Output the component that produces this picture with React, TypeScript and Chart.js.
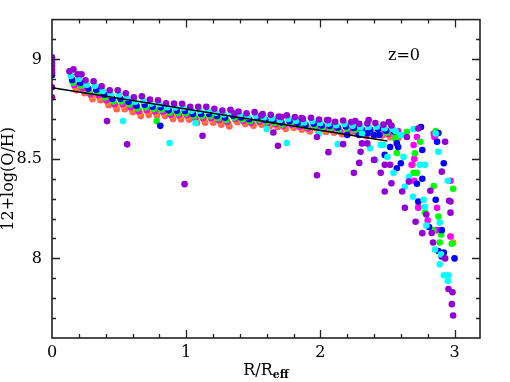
import { useEffect, useRef } from "react";
import { Chart, registerables } from "chart.js";
Chart.register(...registerables);

// ---------- data ----------
// main band: one column per radial bin, each colour slightly shifted
const purpleR = [0.13,0.19,0.25,0.31,0.37,0.43,0.49,0.55,0.61,0.67,0.73,0.79,0.85,0.91,0.97,1.03,1.09,1.15,1.21,1.27,1.33,1.39,1.45,1.51,1.57,1.63,1.69,1.75,1.81,1.87,1.93,1.99,2.05,2.11,2.17,2.23,2.29,2.35,2.41,2.47,2.53];
const purpleOH = [8.94,8.925,8.895,8.89,8.865,8.845,8.845,8.83,8.81,8.815,8.798,8.795,8.78,8.778,8.777,8.762,8.762,8.762,8.752,8.743,8.747,8.738,8.729,8.735,8.726,8.722,8.713,8.719,8.71,8.701,8.707,8.698,8.695,8.687,8.693,8.685,8.677,8.678,8.68,8.672,8.668];

const cyanR = [0.14,0.20,0.26,0.32,0.38,0.44,0.50,0.56,0.62,0.68,0.74,0.80,0.86,0.92,0.98,1.04,1.10,1.16,1.22,1.28,1.34,1.40,1.46,1.52,1.58,1.64,1.70,1.76,1.82,1.88,1.94,2.00,2.06,2.12,2.18,2.24,2.30,2.36,2.42,2.48,2.54];
const cyanOH = [8.917,8.902,8.872,8.867,8.842,8.822,8.822,8.807,8.787,8.792,8.778,8.775,8.76,8.758,8.757,8.742,8.742,8.742,8.732,8.723,8.729,8.72,8.711,8.717,8.708,8.704,8.695,8.701,8.692,8.683,8.689,8.68,8.677,8.669,8.675,8.667,8.659,8.66,8.662,8.654,8.65];

const blueR = [0.15,0.21,0.27,0.33,0.39,0.45,0.51,0.57,0.63,0.69,0.75,0.81,0.87,0.93,0.99,1.05,1.11,1.17,1.23,1.29,1.35,1.41,1.47,1.53,1.59,1.65,1.71,1.77,1.83,1.89,1.95,2.01,2.07,2.13,2.19,2.25,2.31,2.37,2.43,2.49,2.55];
const blueOH = [8.897,8.882,8.852,8.847,8.822,8.802,8.802,8.787,8.767,8.772,8.762,8.759,8.744,8.742,8.741,8.726,8.726,8.726,8.716,8.707,8.717,8.708,8.699,8.705,8.696,8.692,8.683,8.689,8.68,8.671,8.677,8.668,8.665,8.657,8.663,8.655,8.647,8.648,8.65,8.642,8.638];

const greenR = [0.158,0.218,0.278,0.338,0.398,0.458,0.518,0.578,0.638,0.698,0.758,0.818,0.878,0.938,0.998,1.058,1.118,1.178,1.238,1.298,1.358,1.418,1.478,1.538,1.598,1.658,1.718,1.778,1.838,1.898,1.958,2.018,2.078,2.138,2.198,2.258,2.318,2.378,2.438,2.498,2.558];
const greenOH = [8.883,8.868,8.838,8.833,8.808,8.788,8.788,8.773,8.753,8.758,8.75,8.747,8.732,8.73,8.729,8.714,8.714,8.714,8.704,8.695,8.707,8.698,8.689,8.695,8.686,8.682,8.673,8.679,8.67,8.661,8.667,8.658,8.655,8.647,8.653,8.645,8.637,8.638,8.64,8.632,8.628];

const magentaR = [0.166,0.226,0.286,0.346,0.406,0.466,0.526,0.586,0.646,0.706,0.766,0.826,0.886,0.946,1.006,1.066,1.126,1.186,1.246,1.306,1.366,1.426,1.486,1.546,1.606,1.666,1.726,1.786,1.846,1.906,1.966,2.026,2.086,2.146,2.206,2.266,2.326,2.386,2.446,2.506,2.566];
const magentaOH = [8.87,8.855,8.825,8.82,8.795,8.775,8.775,8.76,8.74,8.745,8.74,8.737,8.722,8.72,8.719,8.704,8.704,8.704,8.694,8.685,8.699,8.69,8.681,8.687,8.678,8.674,8.665,8.671,8.662,8.653,8.659,8.65,8.647,8.639,8.645,8.637,8.629,8.63,8.632,8.624,8.62];

const orangeR = [0.174,0.234,0.294,0.354,0.414,0.474,0.534,0.594,0.654,0.714,0.774,0.834,0.894,0.954,1.014,1.074,1.134,1.194,1.254,1.314,1.374,1.434,1.494,1.554,1.614,1.674,1.734,1.794,1.854,1.914,1.974,2.034,2.094,2.154,2.214,2.274,2.334,2.394,2.454,2.514,2.574];
const orangeOH = [8.86,8.845,8.815,8.81,8.785,8.765,8.765,8.75,8.73,8.735,8.732,8.729,8.714,8.712,8.711,8.696,8.696,8.696,8.686,8.677,8.693,8.684,8.675,8.681,8.672,8.668,8.659,8.665,8.656,8.647,8.653,8.644,8.641,8.633,8.639,8.631,8.623,8.624,8.626,8.618,8.614];

const redR = [0.182,0.242,0.302,0.362,0.422,0.482,0.542,0.602,0.662,0.722,0.782,0.842,0.902,0.962,1.022,1.082,1.142,1.202,1.262,1.322,1.382,1.442,1.502,1.562,1.622,1.682,1.742,1.802,1.862,1.922,1.982,2.042,2.102,2.162,2.222,2.282,2.342,2.402,2.462,2.522,2.582];
const redOH = [8.845,8.83,8.80,8.795,8.77,8.75,8.75,8.735,8.715,8.72,8.718,8.715,8.70,8.698,8.697,8.682,8.682,8.682,8.672,8.663,8.684,8.675,8.666,8.672,8.663,8.659,8.65,8.656,8.647,8.638,8.644,8.635,8.632,8.624,8.63,8.622,8.614,8.615,8.617,8.609,8.605];

// outliers, the central column and the steep outer tail
const purpleTailR = [0,0,0,0,0,0,0,0,0.16,0.22,1.36,1.56,1.71,1.86,2.06,2.26,2.36,2.51,0.41,0.56,0.988,1.122,1.65,1.684,1.975,1.975,2.06,2.17,2.25,2.29,2.30,2.31,2.35,2.40,2.45,2.48,2.52,2.53,2.48,2.61,2.66,2.63,2.645,2.73,2.71,2.76,2.79,2.82,2.83,2.84,2.905,2.93,2.96,2.97,2.97,2.93,2.955,2.985,2.98,2.99];
const purpleTailOH = [9.01,8.995,8.98,8.965,8.95,8.935,8.86,8.81,8.95,8.925,8.728,8.718,8.71,8.705,8.695,8.69,8.695,8.685,8.69,8.573,8.373,8.616,8.633,8.566,8.61,8.418,8.534,8.574,8.43,8.48,8.536,8.578,8.578,8.495,8.43,8.47,8.47,8.378,8.336,8.336,8.386,8.254,8.61,8.653,8.184,8.127,8.22,8.34,8.128,8.08,8.436,8.586,8.29,8.23,8.286,8.00,7.846,7.83,7.77,7.713];

const cyanTailR = [0,0.53,0.876,1.07,1.60,1.75,1.99,2.13,2.31,2.37,2.41,2.45,2.47,2.50,2.545,2.56,2.60,2.62,2.63,2.66,2.69,2.695,2.74,2.78,2.77,2.78,2.79,2.86,2.88,2.89,2.855,2.89,2.92,2.955,2.95,2.95,2.90];
const cyanTailOH = [8.94,8.69,8.58,8.68,8.65,8.58,8.628,8.574,8.628,8.553,8.495,8.57,8.57,8.51,8.43,8.64,8.62,8.51,8.36,8.41,8.31,8.65,8.47,8.47,8.295,8.258,8.165,8.628,8.536,8.18,8.045,7.97,7.915,7.915,7.887,8.39,8.02];

const blueTailR = [0,0.807,2.20,2.29,2.35,2.40,2.44,2.52,2.48,2.57,2.58,2.60,2.57,2.75,2.76,2.72,2.76,2.73,2.87,2.88,2.92,2.86,2.81,2.905,2.88,2.92,2.905,3.00];
const blueTailOH = [8.92,8.666,8.62,8.62,8.628,8.62,8.62,8.56,8.52,8.578,8.56,8.478,8.453,8.66,8.545,8.375,8.40,8.286,8.586,8.63,8.478,8.295,8.158,8.142,8.037,8.029,8.01,8.00];

const greenTailR = [0,0.78,2.30,2.56,2.57,2.645,2.745,2.705,2.695,2.72,2.845,2.99,2.88,2.78,2.84,2.89,2.98,2.86,2.90];
const greenTailOH = [8.93,8.69,8.64,8.60,8.53,8.636,8.586,8.528,8.43,8.43,8.364,8.35,8.21,8.23,8.142,8.08,8.074,8.64,8.12];

const magentaTailR = [2.50,2.58,2.72,2.695,2.70,2.68,2.70,2.73,2.845,2.85,2.97,2.87,2.80,2.86,2.88,2.97];
const magentaTailOH = [8.63,8.64,8.61,8.57,8.50,8.47,8.39,8.254,8.628,8.61,8.39,8.254,8.19,8.142,8.142,8.11];

const orangeTailR = [2.55,2.69,2.73,2.86,2.97,2.99];
const orangeTailOH = [8.63,8.47,8.26,8.62,8.11,8.08];

const fitR = [0, 2.5];
const fitOH = [8.857, 8.59];

const xMinorTicks = [0.2,0.4,0.6,0.8,1.2,1.4,1.6,1.8,2.2,2.4,2.6,2.8,3.0];
const xMajorTicks = [1, 2, 3];
const yMinorTicks = [7.7,7.8,7.9,8.1,8.2,8.3,8.4,8.6,8.7,8.8,8.9,9.1];
const yMajorTicks = [8, 8.5, 9];

// ---------- helpers ----------
const pts = (xs: number[], ys: number[]) => xs.map((x, i) => ({ x, y: ys[i] }));
const FONT = "'DejaVu Serif', serif";

const framePlugin = {
  id: "frame",
  afterDraw(chart: any) {
    const { ctx, chartArea: a, scales } = chart;
    const xs = scales.x, ys = scales.y;
    ctx.save();
    ctx.strokeStyle = "#222";
    ctx.lineWidth = 1.6;
    ctx.strokeRect(a.left, a.top, a.right - a.left, a.bottom - a.top);
    ctx.lineWidth = 1.3;
    ctx.beginPath();
    const xt = (v: number, L: number) => {
      const p = Math.round(xs.getPixelForValue(v)) + 0.5;
      ctx.moveTo(p, a.bottom); ctx.lineTo(p, a.bottom - L);
      ctx.moveTo(p, a.top); ctx.lineTo(p, a.top + L);
    };
    const yt = (v: number, L: number) => {
      const p = Math.round(ys.getPixelForValue(v)) + 0.5;
      ctx.moveTo(a.left, p); ctx.lineTo(a.left + L, p);
      ctx.moveTo(a.right, p); ctx.lineTo(a.right - L, p);
    };
    xMinorTicks.forEach((v) => xt(v, 4));
    xMajorTicks.forEach((v) => xt(v, 8));
    yMinorTicks.forEach((v) => yt(v, 4));
    yMajorTicks.forEach((v) => yt(v, 8));
    ctx.stroke();

    ctx.fillStyle = "#000";
    ctx.font = `16px ${FONT}`;
    ctx.textAlign = "center";
    ctx.textBaseline = "alphabetic";
    ctx.fillText("z=0", 404, 60);

    ctx.save();
    ctx.translate(13, (a.top + a.bottom) / 2);
    ctx.rotate(-Math.PI / 2);
    ctx.textAlign = "center";
    ctx.fillText("12+log(O/H)", 0, 0);
    ctx.restore();

    ctx.textAlign = "left";
    ctx.font = `16px ${FONT}`;
    const main = "R/R";
    const w1 = ctx.measureText(main).width;
    ctx.font = `bold 11px ${FONT}`;
    const w2 = ctx.measureText("eff").width;
    const cx = (a.left + a.right) / 2;
    const x0 = cx - (w1 + w2) / 2;
    ctx.font = `16px ${FONT}`;
    ctx.fillText(main, x0, 375);
    ctx.font = `bold 11px ${FONT}`;
    ctx.fillText("eff", x0 + w1, 378);
    ctx.restore();
  },
};

const dot = (label: string, color: string, data: any[]) => ({
  type: "scatter" as const,
  label,
  data,
  pointRadius: 3.3,
  pointHoverRadius: 3.3,
  pointBorderWidth: 0,
  pointBackgroundColor: color,
  backgroundColor: color,
  borderColor: color,
  showLine: false,
});

export default function App() {
  const ref = useRef<HTMLCanvasElement>(null);
  useEffect(() => {
    if (!ref.current) return;
    const chart = new Chart(ref.current, {
      type: "scatter",
      data: {
        datasets: [
          {
            type: "line",
            label: "fit",
            data: pts(fitR, fitOH),
            borderColor: "#000",
            borderWidth: 1.5,
            pointRadius: 0,
            fill: false,
          } as any,
          dot("purple", "#9400d3", [...pts(purpleR, purpleOH), ...pts(purpleTailR, purpleTailOH)]),
          dot("cyan", "#00ffff", [...pts(cyanR, cyanOH), ...pts(cyanTailR, cyanTailOH)]),
          dot("blue", "#0000ff", [...pts(blueR, blueOH), ...pts(blueTailR, blueTailOH)]),
          dot("green", "#00ff00", [...pts(greenR, greenOH), ...pts(greenTailR, greenTailOH)]),
          dot("magenta", "#ff00ff", [...pts(magentaR, magentaOH), ...pts(magentaTailR, magentaTailOH)]),
          dot("orange", "#ff8c00", [...pts(orangeR, orangeOH), ...pts(orangeTailR, orangeTailOH)]),
          dot("red", "#ff6060", pts(redR, redOH)),
        ],
      },
      options: {
        animation: false,
        responsive: false,
        devicePixelRatio: 1,
        layout: { padding: { top: 19, right: 30, left: 0, bottom: 0 } },
        plugins: { legend: { display: false }, tooltip: { enabled: false } },
        scales: {
          x: {
            type: "linear",
            min: 0,
            max: 3.19,
            grid: { display: false, drawTicks: false },
            border: { display: false },
            ticks: {
              stepSize: 1,
              includeBounds: false,
              autoSkip: false,
              maxRotation: 0,
              padding: 5,
              color: "#000",
              font: { family: FONT, size: 16 },
              callback: (v: any) => String(v),
            },
            afterFit: (s: any) => { s.height = 44; },
          },
          y: {
            type: "linear",
            min: 7.6,
            max: 9.2,
            grid: { display: false, drawTicks: false },
            border: { display: false },
            ticks: {
              stepSize: 0.5,
              includeBounds: false,
              autoSkip: false,
              padding: 10,
              color: "#000",
              font: { family: FONT, size: 16 },
              callback: (v: any) => String(v),
            },
            afterFit: (s: any) => { s.width = 52; },
          },
        },
      },
      plugins: [framePlugin],
    });
    return () => chart.destroy();
  }, []);
  return (
    <div style={{ position: "fixed", left: 0, top: 0, width: 510, height: 382, background: "#fff" }}>
      <canvas ref={ref} width={510} height={382} style={{ display: "block" }} />
    </div>
  );
}
